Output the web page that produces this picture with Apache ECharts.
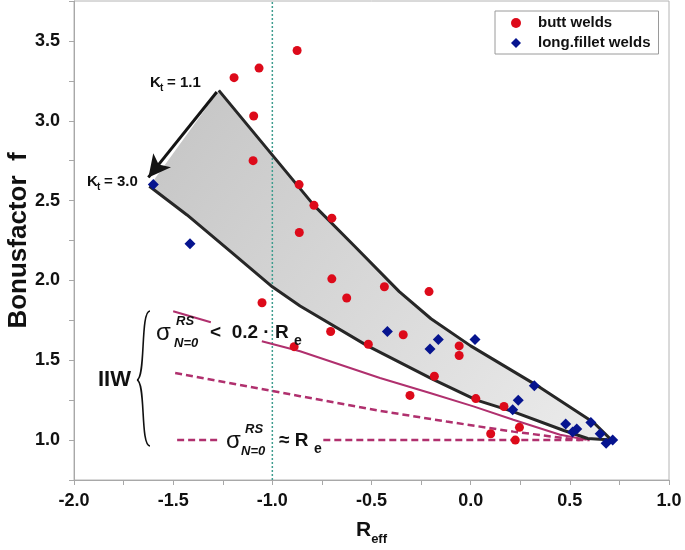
<!DOCTYPE html>
<html><head><meta charset="utf-8">
<script src="https://cdn.jsdelivr.net/npm/echarts@6/dist/echarts.min.js"></script>
<style>html,body{margin:0;padding:0;background:#fff}#c{width:685px;height:550px}</style>
</head><body><div id="c"></div>
<script>
// ---- data ----
const xTickLabels = ['-2.0','-1.5','-1.0','-0.5','0.0','0.5','1.0'];
const yTickLabels = ['1.0','1.5','2.0','2.5','3.0','3.5'];

const buttWelds = [
  [-0.875,3.44],[-1.193,3.27],[-1.067,3.33],[-1.094,3.03],[-1.097,2.75],
  [-0.865,2.60],[-0.79,2.47],[-0.70,2.39],[-0.864,2.30],[-0.70,2.01],
  [-0.625,1.89],[-0.435,1.96],[-0.21,1.93],[-1.052,1.86],[-0.706,1.68],
  [-0.516,1.60],[-0.34,1.66],[-0.058,1.59],[-0.058,1.53],[-0.183,1.40],
  [-0.306,1.28],[0.026,1.26],[0.168,1.21],[0.246,1.08],[0.101,1.04],
  [0.225,1.00],[-0.89,1.585]
];
const filletWelds = [
  [-1.60,2.60],[-1.415,2.23],[-0.42,1.68],[-0.163,1.63],[-0.205,1.57],
  [0.022,1.63],[0.321,1.34],[0.24,1.25],[0.212,1.19],[0.479,1.10],
  [0.535,1.07],[0.514,1.05],[0.606,1.11],[0.653,1.04],[0.683,0.98],[0.716,1.00]
];
const kt11Curve = [[-1.27,3.19],[-1.03,2.83],[-0.79,2.47],[-0.59,2.22],[-0.36,1.93],
  [-0.2,1.76],[0.0,1.59],[0.35,1.33],[0.62,1.11],[0.71,1.0]];
const kt30Curve = [[-1.62,2.59],[-1.43,2.41],[-1.21,2.18],[-1.0,1.96],[-0.86,1.84],
  [-0.52,1.59],[-0.19,1.38],[0.03,1.25],[0.21,1.18],[0.47,1.06],[0.59,1.01],[0.71,1.0]];
const ktArrow = [[-1.28,3.18],[-1.625,2.645]];
const iiwSolidA = [[-1.50,1.807],[-1.31,1.738]];
const iiwSolidB = [[-1.053,1.619],[-0.86,1.556],[-0.457,1.389],[-0.205,1.295],[0.014,1.211],
  [0.215,1.127],[0.451,1.033],[0.585,1.002]];
const iiwDashSlope = [[-1.49,1.42],[-0.86,1.275],[-0.457,1.183],[-0.121,1.116],[0.215,1.053],[0.55,1.0]];
const iiwDashFlatA = [[-1.48,1.0],[-1.265,1.0]];
const iiwDashFlatB = [[-0.743,1.0],[0.6,1.0]];
const refLineX = -1.0;

// ---- chart ----
const FF = 'Liberation Sans, Arial, sans-serif';
const MAG = '#b0306e';
function fmt(list){
  return v => { const s = (Math.abs(v) < 1e-9 ? 0 : v).toFixed(1);
    return (Math.abs(v*2 - Math.round(v*2)) < 1e-6 && list.includes(s)) ? s : ''; };
}
function txt(x, y, text, size, opt){
  opt = opt || {};
  return {type:'text', x:x, y:y, z:100, style:{text:text, fill:'#111',
    font:(opt.italic?'italic ':'') + (opt.normal?'normal ':'bold ') + size + 'px ' + FF,
    align: opt.align || 'left', verticalAlign:'middle'}};
}
const chart = echarts.init(document.getElementById('c'), null, {renderer:'canvas'});
chart.setOption({
  animation:false,
  backgroundColor:'#fff',
  grid:{left:74, right:16, top:1, bottom:70, show:true, borderColor:'#b4b4b4', borderWidth:1,
    containLabel:false, outerBoundsMode:'none'},
  legend:{
    orient:'vertical', left:495, top:11,
    data:[{name:'butt welds', icon:'circle'},{name:'long.fillet welds', icon:'diamond'}],
    itemWidth:10, itemHeight:10, itemGap:4,
    textStyle:{fontFamily:FF, fontWeight:'bold', fontSize:15, color:'#111', lineHeight:16, padding:[0,0,0,12]},
    borderColor:'#9a9a9a', borderWidth:1, padding:[4,8,3,16]
  },
  xAxis:{type:'value', min:-2, max:1, interval:0.25,
    axisLine:{show:true, onZero:false, lineStyle:{color:'#a8a8a8', width:1}},
    axisTick:{show:true, length:5, lineStyle:{color:'#a8a8a8'}},
    splitLine:{show:false},
    axisLabel:{formatter:fmt(xTickLabels), fontFamily:FF, fontWeight:'bold', fontSize:18, color:'#111', margin:12},
    name:'{r|R}{s|eff}', nameLocation:'middle', nameGap:38, nameMoveOverlap:false,
    nameTextStyle:{rich:{
      r:{fontFamily:FF, fontWeight:'bold', fontSize:21, color:'#111', lineHeight:24},
      s:{fontFamily:FF, fontWeight:'bold', fontSize:13, color:'#111', lineHeight:12, verticalAlign:'bottom', padding:[0,0,-4,0]}
    }}
  },
  yAxis:{type:'value', min:0.75, max:3.75, interval:0.25,
    axisLine:{show:true, onZero:false, lineStyle:{color:'#a8a8a8', width:1}},
    axisTick:{show:true, length:5, lineStyle:{color:'#a8a8a8'}},
    splitLine:{show:false},
    axisLabel:{formatter:fmt(yTickLabels), fontFamily:FF, fontWeight:'bold', fontSize:18, color:'#111', margin:14},
    name:'Bonusfactor  f', nameLocation:'middle', nameGap:42, nameMoveOverlap:false,
    nameTextStyle:{fontFamily:FF, fontWeight:'bold', fontSize:26, color:'#111'}
  },
  series:[
    {type:'custom', name:'band', coordinateSystem:'cartesian2d', silent:true, z:1,
      data:[[0,2]],
      renderItem:function(params, api){
        const pts = kt11Curve.map(p=>api.coord(p)).concat(kt30Curve.slice().reverse().map(p=>api.coord(p)));
        return {type:'polygon', shape:{points:pts},
          style:{fill:new echarts.graphic.LinearGradient(0,0,1,1,[{offset:0,color:'#c4c4c4'},{offset:1,color:'#ececec'}])}};
      }},
    {type:'line', name:'ref', data:[[refLineX,0.75],[refLineX,3.75]], symbol:'none', silent:true, z:2,
      lineStyle:{color:'#3f9d8f', width:1.5, type:[2,2]}},
    {type:'line', data:iiwSolidA, symbol:'none', silent:true, z:3, lineStyle:{color:MAG, width:2}},
    {type:'line', data:iiwSolidB, symbol:'none', silent:true, z:3, lineStyle:{color:MAG, width:2}},
    {type:'line', data:iiwDashSlope, symbol:'none', silent:true, z:3, lineStyle:{color:MAG, width:2.5, type:[7,4]}},
    {type:'line', data:iiwDashFlatA, symbol:'none', silent:true, z:3, lineStyle:{color:MAG, width:2.5, type:[7,4]}},
    {type:'line', data:iiwDashFlatB, symbol:'none', silent:true, z:3, lineStyle:{color:MAG, width:2.5, type:[7,4]}},
    {type:'line', data:kt11Curve, symbol:'none', silent:true, z:4, lineStyle:{color:'#272727', width:3},
      markLine:{silent:true, symbol:['none','arrow'], symbolSize:[17,22], label:{show:false},
        lineStyle:{color:'#141414', width:3, type:'solid'},
        data:[[{coord:ktArrow[0]},{coord:ktArrow[1]}]]}},
    {type:'line', data:kt30Curve, symbol:'none', silent:true, z:4, lineStyle:{color:'#272727', width:3}},
    {type:'scatter', name:'butt welds', data:buttWelds, symbol:'circle', symbolSize:9, z:6,
      itemStyle:{color:'#dd0a1a', opacity:1}},
    {type:'scatter', name:'long.fillet welds', data:filletWelds, symbol:'diamond', symbolSize:11, z:6,
      itemStyle:{color:'#06148f', opacity:1}}
  ],
  graphic:[
    txt(150,83,'K',15), txt(160,88,'t',10), txt(167,83,'= 1.1',15),
    txt(87,182,'K',15), txt(97,187,'t',10), txt(104,182,'= 3.0',15),
    txt(98,380,'IIW',22),
    {type:'bezierCurve', z:100, shape:{x1:150,y1:311,cpx1:140,cpy1:311,cpx2:146,cpy2:378,x2:137,y2:380},
      style:{stroke:'#111', lineWidth:1.6, fill:null}},
    {type:'bezierCurve', z:100, shape:{x1:137,y1:380,cpx1:146,cpy1:382,cpx2:140,cpy2:446,x2:150,y2:446},
      style:{stroke:'#111', lineWidth:1.6, fill:null}},
    txt(156,333,'σ',24,{normal:true}), txt(176,321,'RS',13,{italic:true}), txt(174,343,'N=0',13,{italic:true}),
    txt(210,333,'<  0.2 · R',19), txt(294,341,'e',14),
    txt(226,441,'σ',24,{normal:true}), txt(245,429,'RS',13,{italic:true}), txt(241,451,'N=0',13,{italic:true}),
    txt(279,441,'≈ R',19), txt(314,449,'e',14)
  ]
});
</script>
</body></html>
